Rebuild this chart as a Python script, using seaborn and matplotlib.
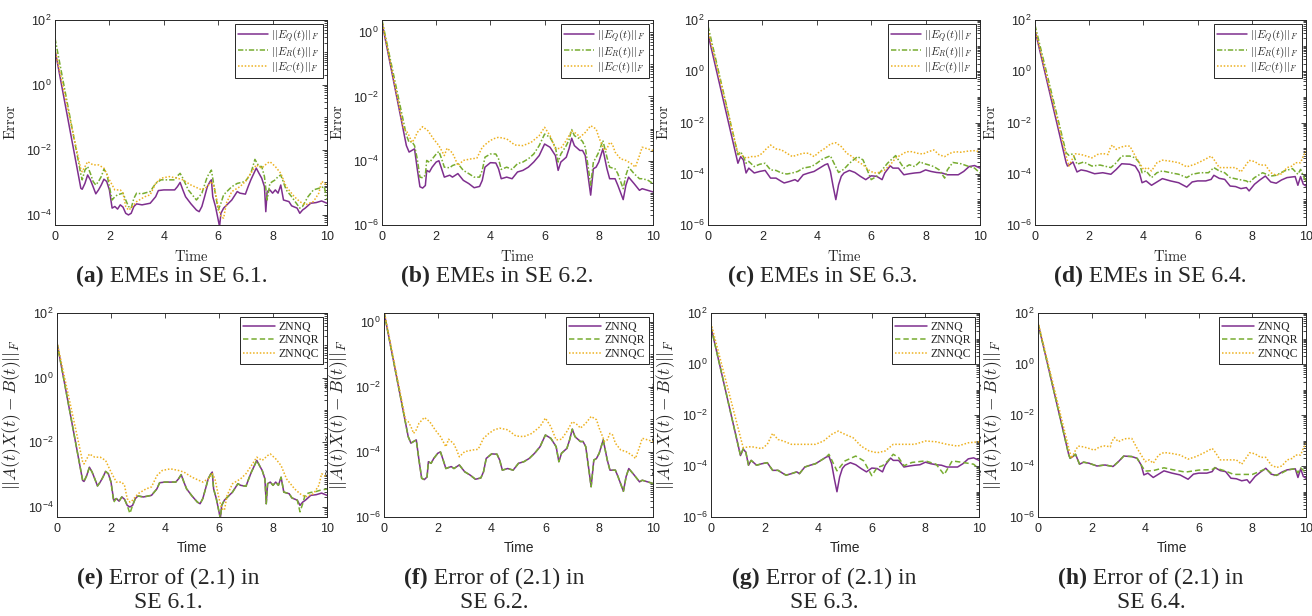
import numpy as np
import matplotlib
matplotlib.use("Agg")
import matplotlib.pyplot as plt
import seaborn as sns
from matplotlib.ticker import FixedLocator, LogLocator, NullFormatter, LogFormatterSciNotation
from matplotlib.font_manager import FontProperties

# ---------------------------------------------------------------------
# data: time knots and log10(error)
# ---------------------------------------------------------------------
# SE 6.1
aQ_t = [0, 0.95, 1.0, 1.1, 1.2, 1.3, 1.4, 1.5, 1.6, 1.7, 1.8, 1.9, 2.0, 2.1, 2.2, 2.3, 2.4, 2.5, 2.6, 2.7,
        2.8, 2.9, 3.0, 3.2, 3.5, 3.7, 3.8, 4.0, 4.4, 4.5, 4.6, 4.7, 4.8, 5.0, 5.2, 5.3, 5.4, 5.5, 5.6, 5.7,
        5.75, 5.8, 5.9, 6.0, 6.05, 6.1, 6.2, 6.5, 6.7, 6.8, 7.0, 7.1, 7.2, 7.4, 7.5, 7.6, 7.7, 7.75, 7.8, 7.9,
        8.0, 8.1, 8.2, 8.3, 8.4, 8.6, 8.7, 8.9, 9.0, 9.1, 9.2, 9.4, 9.6, 9.8, 10.0]
aQ_v = [1.08, -3.18, -3.21, -3.03, -2.77, -2.92, -3.13, -3.35, -3.23, -3.08, -2.90, -2.97, -3.23, -3.79, -3.74, -3.82, -3.69, -3.76, -3.95, -4.0,
        -3.95, -3.74, -3.66, -3.69, -3.64, -3.44, -3.25, -3.23, -3.23, -3.13, -3.0, -3.23, -3.44, -3.66, -3.85, -3.9, -3.74, -3.44, -3.13, -2.97,
        -2.92, -3.44, -3.74, -4.15, -4.36, -3.95, -3.79, -3.54, -3.28, -3.33, -3.36, -3.13, -2.92, -2.56, -2.72, -2.87, -3.13, -3.90, -3.28, -3.23,
        -3.33, -3.23, -3.33, -3.08, -3.54, -3.59, -3.72, -3.79, -3.95, -3.85, -3.79, -3.64, -3.62, -3.57, -3.64]
aR_t = [0, 0.95, 1.0, 1.1, 1.2, 1.3, 1.4, 1.5, 1.6, 1.7, 1.8, 1.9, 2.0, 2.1, 2.2, 2.3, 2.5, 2.6, 2.7, 2.8,
        2.9, 3.0, 3.2, 3.5, 3.7, 3.9, 4.4, 4.5, 4.6, 4.7, 4.9, 5.2, 5.4, 5.6, 5.75, 5.85, 6.0, 6.1, 6.2, 6.5,
        6.7, 7.0, 7.2, 7.35, 7.5, 7.6, 7.7, 7.8, 7.9, 8.0, 8.1, 8.2, 8.3, 8.5, 8.7, 9.0, 9.1, 9.3, 9.5, 9.7,
        9.9, 10.0]
aR_v = [1.44, -2.75, -2.92, -2.62, -2.51, -2.72, -2.97, -3.08, -2.97, -2.82, -2.59, -2.72, -3.13, -3.54, -3.44, -3.38, -3.33, -3.54, -3.74, -3.79,
        -3.49, -3.33, -3.35, -3.28, -3.03, -2.92, -2.92, -2.80, -2.72, -2.87, -3.23, -3.54, -3.33, -2.82, -2.62, -3.13, -3.85, -3.64, -3.38, -3.13,
        -3.03, -2.97, -2.72, -2.29, -2.51, -2.51, -2.82, -3.54, -3.03, -2.97, -2.92, -2.82, -2.77, -3.23, -3.44, -3.79, -3.74, -3.44, -3.23, -3.18,
        -3.13, -3.54]
aC_t = [0, 0.95, 1.0, 1.2, 1.4, 1.6, 1.7, 1.8, 2.0, 2.2, 2.4, 2.5, 2.6, 2.7, 2.8, 3.0, 3.3, 3.5, 3.7, 3.9,
        4.2, 4.5, 4.7, 5.0, 5.4, 5.6, 5.75, 5.85, 6.0, 6.1, 6.2, 6.3, 6.5, 6.8, 7.0, 7.2, 7.4, 7.6, 7.8, 7.9,
        8.1, 8.3, 8.5, 8.8, 9.0, 9.2, 9.5, 9.7, 9.8, 10.0]
aC_v = [1.1, -2.6, -2.67, -2.36, -2.46, -2.46, -2.51, -2.56, -2.92, -3.23, -3.23, -3.33, -3.74, -3.85, -3.79, -3.59, -3.44, -3.38, -3.03, -2.87,
        -2.82, -2.87, -2.92, -3.08, -3.23, -3.13, -2.97, -3.13, -3.74, -4.05, -4.1, -3.64, -3.28, -3.13, -2.97, -2.72, -2.46, -2.56, -2.41, -2.36,
        -2.51, -2.72, -3.13, -3.44, -3.59, -3.69, -3.59, -3.33, -2.97, -3.08]
# ZNNQR in SE 6.1 (same knots as aQ_t)
eR_v = [1.08, -3.18, -3.21, -3.03, -2.77, -2.92, -3.13, -3.35, -3.23, -3.08, -2.90, -2.97, -3.23, -3.85, -3.74, -3.82, -3.69, -3.76, -3.95, -4.2,
        -3.95, -3.74, -3.66, -3.69, -3.64, -3.44, -3.25, -3.23, -3.23, -3.13, -3.0, -3.23, -3.44, -3.66, -3.85, -3.9, -3.74, -3.44, -3.13, -2.97,
        -2.92, -3.44, -3.74, -4.15, -4.36, -3.95, -3.79, -3.54, -3.28, -3.33, -3.36, -3.13, -2.92, -2.56, -2.72, -2.87, -3.13, -3.90, -3.28, -3.23,
        -3.33, -3.23, -3.33, -3.08, -3.54, -3.59, -3.72, -3.79, -4.15, -3.9, -3.6, -3.55, -3.52, -3.47, -3.45]

# SE 6.2
bQ_t = [0, 0.85, 0.9, 1.0, 1.1, 1.2, 1.3, 1.4, 1.5, 1.6, 1.65, 1.75, 1.85, 2.0, 2.1, 2.2, 2.3, 2.5, 2.6, 2.8,
        3.0, 3.2, 3.4, 3.6, 3.7, 3.8, 4.0, 4.2, 4.3, 4.4, 4.6, 4.8, 5.0, 5.2, 5.4, 5.6, 5.8, 6.0, 6.2, 6.4,
        6.5, 6.6, 6.8, 6.9, 7.0, 7.1, 7.3, 7.4, 7.5, 7.6, 7.7, 7.8, 7.9, 8.0, 8.15, 8.3, 8.4, 8.6, 8.7, 8.9,
        9.0, 9.1, 9.3, 9.5, 9.6, 9.8, 10.0]
bQ_v = [0.3, -3.32, -3.53, -3.73, -3.68, -3.63, -4.25, -4.81, -4.85, -4.77, -4.30, -4.35, -4.20, -4.04, -4.0, -4.25, -4.51, -4.45, -4.51, -4.40,
        -4.61, -4.71, -4.84, -4.80, -4.61, -4.20, -4.06, -4.07, -4.25, -4.56, -4.51, -4.56, -4.35, -4.30, -4.20, -4.04, -3.84, -3.48, -3.58, -3.84,
        -4.30, -4.04, -3.89, -3.63, -3.30, -3.53, -3.68, -3.68, -3.84, -4.45, -5.07, -4.25, -4.20, -4.04, -3.63, -4.25, -4.56, -4.56, -4.76, -5.21,
        -4.76, -4.51, -4.71, -4.92, -4.87, -4.92, -4.97]
bR_v = [0.38, -3.01, -3.2, -3.43, -3.40, -3.53, -3.94, -4.51, -4.53, -4.45, -3.99, -4.05, -3.95, -3.79, -3.71, -3.94, -4.20, -4.22, -4.15, -4.09,
        -4.30, -4.40, -4.51, -4.51, -4.30, -3.89, -3.79, -3.79, -3.94, -4.27, -4.20, -4.27, -4.09, -4.04, -3.94, -3.79, -3.53, -3.17, -3.27, -3.58,
        -4.04, -3.79, -3.53, -3.35, -3.03, -3.22, -3.32, -3.40, -3.58, -4.15, -4.76, -4.04, -3.90, -3.73, -3.37, -3.89, -4.20, -4.25, -4.40, -4.87,
        -4.45, -4.20, -4.40, -4.56, -4.56, -4.60, -4.71]
bC_t = [0, 0.8, 0.9, 1.0, 1.1, 1.2, 1.3, 1.5, 1.7, 1.9, 2.1, 2.3, 2.4, 2.5, 2.6, 2.7, 2.8, 3.0, 3.3, 3.5,
        3.7, 3.9, 4.1, 4.3, 4.6, 4.9, 5.2, 5.5, 5.8, 6.0, 6.2, 6.4, 6.6, 6.8, 7.0, 7.2, 7.3, 7.5, 7.7, 7.9,
        8.0, 8.2, 8.3, 8.4, 8.5, 8.6, 8.8, 9.0, 9.2, 9.35, 9.5, 9.6, 9.8, 10.0]
bC_v = [0.35, -3.01, -3.07, -3.22, -3.43, -3.32, -3.12, -2.94, -3.07, -3.32, -3.53, -3.84, -3.61, -3.68, -3.76, -3.94, -4.15, -3.99, -3.94, -3.92,
        -3.58, -3.43, -3.32, -3.27, -3.32, -3.51, -3.53, -3.43, -3.22, -2.96, -3.22, -3.63, -3.61, -3.37, -3.07, -3.17, -3.27, -3.12, -2.91, -3.01,
        -3.27, -3.68, -3.63, -3.43, -3.48, -3.73, -3.94, -3.99, -4.09, -4.20, -3.84, -3.58, -3.63, -3.68]

# SE 6.3
cQ_t = [0, 1.1, 1.2, 1.3, 1.4, 1.5, 1.7, 1.9, 2.1, 2.3, 2.5, 2.7, 2.8, 3.0, 3.2, 3.3, 3.5, 3.7, 3.9, 4.1,
        4.3, 4.4, 4.5, 4.6, 4.7, 4.8, 4.9, 5.0, 5.2, 5.4, 5.6, 5.8, 6.0, 6.2, 6.4, 6.5, 6.7, 6.8, 7.0, 7.2,
        7.4, 7.6, 7.8, 8.0, 8.2, 8.4, 8.6, 8.8, 9.0, 9.2, 9.4, 9.6, 9.8, 10.0]
cQ_v = [1.45, -3.59, -3.33, -3.46, -3.97, -3.78, -3.97, -3.91, -3.87, -4.17, -4.17, -4.30, -4.36, -4.30, -4.23, -4.30, -4.04, -3.97, -3.91, -3.78,
        -3.65, -3.61, -3.91, -4.49, -5.01, -4.43, -4.10, -3.97, -3.87, -3.95, -4.10, -4.23, -4.08, -4.10, -4.23, -3.97, -3.69, -3.78, -3.78, -4.04,
        -4.0, -3.97, -3.95, -3.85, -3.91, -3.95, -3.97, -4.04, -4.04, -4.04, -3.91, -3.72, -3.68, -3.78]
cR_t = [0, 1.1, 1.2, 1.3, 1.4, 1.5, 1.7, 1.9, 2.1, 2.3, 2.5, 2.7, 2.9, 3.1, 3.3, 3.5, 3.8, 4.0, 4.2, 4.5,
        4.6, 4.8, 5.0, 5.2, 5.5, 5.7, 5.9, 6.0, 6.2, 6.4, 6.6, 6.9, 7.0, 7.2, 7.4, 7.6, 7.8, 7.9, 8.1, 8.3,
        8.5, 8.7, 8.8, 9.0, 9.3, 9.6, 9.8, 10.0]
cR_v = [1.77, -3.26, -3.14, -3.33, -3.59, -3.52, -3.72, -3.63, -3.59, -3.85, -3.87, -3.97, -4.01, -3.97, -3.91, -3.78, -3.72, -3.59, -3.43, -3.30,
        -3.52, -3.95, -3.82, -3.59, -3.33, -3.46, -3.97, -4.23, -4.10, -3.85, -3.59, -3.29, -3.46, -3.78, -3.65, -3.72, -3.52, -3.59, -3.65, -3.72,
        -3.85, -4.17, -3.85, -3.56, -3.61, -3.72, -3.78, -3.97]
cC_t = [0, 1.1, 1.2, 1.4, 1.6, 1.8, 2.0, 2.1, 2.3, 2.5, 2.7, 2.9, 3.1, 3.3, 3.5, 3.7, 3.9, 4.1, 4.3, 4.5,
        4.7, 4.9, 5.1, 5.3, 5.5, 5.7, 5.9, 6.1, 6.3, 6.5, 6.7, 6.9, 7.1, 7.3, 7.5, 7.7, 7.9, 8.1, 8.3, 8.5,
        8.7, 8.9, 9.1, 9.3, 9.6, 9.8, 10.0]
cC_v = [1.6, -3.2, -3.26, -3.39, -3.33, -3.33, -3.2, -3.07, -2.88, -3.03, -3.07, -3.2, -3.33, -3.26, -3.2, -3.2, -3.33, -3.14, -3.01, -2.84,
        -2.79, -2.94, -3.2, -3.33, -3.52, -3.65, -3.85, -3.97, -3.95, -3.85, -3.65, -3.39, -3.26, -3.14, -3.14, -3.2, -3.23, -3.14, -3.07, -3.26,
        -3.33, -3.2, -3.14, -3.16, -3.11, -3.10, -3.14]
gR_t = [0, 1.1, 1.2, 1.3, 1.4, 1.5, 1.7, 1.9, 2.1, 2.3, 2.5, 2.7, 2.8, 3.0, 3.2, 3.3, 3.5, 3.7, 3.9, 4.1,
        4.3, 4.4, 4.7, 5.0, 5.4, 5.7, 6.0, 6.2, 6.4, 6.6, 6.8, 7.0, 7.2, 7.5, 8.0, 8.4, 8.7, 9.0, 9.4, 9.8,
        10.0]
gR_v = [1.45, -3.59, -3.33, -3.46, -3.97, -3.78, -3.97, -3.91, -3.87, -4.17, -4.17, -4.30, -4.36, -4.30, -4.23, -4.30, -4.04, -3.97, -3.91, -3.78,
        -3.65, -3.54, -4.19, -3.80, -3.61, -3.80, -4.38, -4.06, -3.99, -3.80, -3.54, -3.67, -3.99, -3.86, -3.80, -3.93, -4.34, -3.80, -3.86, -3.93,
        -4.12]
gC_t = [0, 1.2, 1.5, 1.9, 2.1, 2.3, 2.5, 2.7, 3.0, 3.5, 3.9, 4.2, 4.5, 4.75, 5.0, 5.3, 5.6, 5.9, 6.2, 6.5,
        6.8, 7.2, 7.6, 8.0, 8.4, 8.8, 9.2, 9.6, 10.0]
gC_v = [1.6, -3.28, -3.24, -3.32, -3.15, -2.72, -2.96, -3.02, -3.15, -3.15, -3.15, -3.02, -2.76, -2.63, -2.76, -2.89, -3.22, -3.41, -3.48, -3.41,
        -3.15, -3.15, -3.15, -3.02, -3.05, -3.15, -3.22, -3.09, -3.05]

# SE 6.4
dQ_t = [0, 1.15, 1.2, 1.3, 1.4, 1.55, 1.7, 1.9, 2.2, 2.5, 2.8, 3.0, 3.2, 3.5, 3.7, 3.85, 3.95, 4.1, 4.3, 4.5,
        4.7, 5.0, 5.3, 5.6, 5.8, 6.0, 6.3, 6.5, 6.6, 6.8, 7.0, 7.2, 7.4, 7.6, 7.8, 7.9, 8.1, 8.3, 8.5, 8.7,
        8.9, 9.1, 9.3, 9.6, 9.7, 9.8, 9.9, 10.0]
dQ_v = [1.6, -3.57, -3.70, -3.63, -3.54, -3.93, -3.85, -3.89, -4.0, -3.96, -4.02, -3.83, -3.61, -3.63, -3.70, -3.96, -4.35, -4.28, -4.45, -4.32,
        -4.19, -4.28, -4.35, -4.52, -4.32, -4.28, -4.28, -4.22, -4.06, -4.18, -4.22, -4.48, -4.50, -4.58, -4.54, -4.67, -4.41, -4.24, -4.09, -4.32,
        -4.37, -4.24, -4.15, -4.11, -4.45, -4.11, -4.41, -4.48]
dR_t = [0, 1.15, 1.25, 1.4, 1.55, 1.8, 2.1, 2.4, 2.8, 3.0, 3.2, 3.5, 3.7, 3.85, 3.95, 4.1, 4.3, 4.5, 4.7, 5.0,
        5.3, 5.6, 5.8, 6.1, 6.4, 6.6, 6.8, 7.0, 7.2, 7.5, 7.8, 7.9, 8.1, 8.4, 8.7, 8.9, 9.2, 9.5, 9.7, 9.8,
        9.9, 10.0]
dR_v = [1.8, -3.18, -3.28, -3.22, -3.63, -3.54, -3.70, -3.66, -3.76, -3.57, -3.31, -3.31, -3.38, -3.57, -3.96, -3.89, -4.15, -3.96, -3.89, -3.96,
        -4.02, -4.15, -4.02, -3.96, -3.96, -3.76, -3.89, -3.96, -4.15, -4.22, -4.28, -4.35, -4.15, -3.96, -4.09, -4.06, -3.89, -3.80, -4.02, -3.83,
        -4.09, -4.28]
dC_t = [0, 1.15, 1.25, 1.4, 1.5, 1.7, 1.9, 2.1, 2.3, 2.5, 2.7, 2.75, 2.85, 3.0, 3.1, 3.3, 3.5, 3.7, 3.85, 4.0,
        4.15, 4.3, 4.5, 4.7, 5.0, 5.3, 5.6, 5.9, 6.2, 6.5, 6.6, 6.8, 7.1, 7.4, 7.6, 7.8, 7.9, 8.1, 8.3, 8.5,
        8.7, 8.9, 9.1, 9.3, 9.5, 9.6, 9.8, 9.9, 10.0]
dC_v = [1.65, -3.31, -3.70, -3.38, -3.22, -3.25, -3.31, -3.38, -3.25, -3.21, -3.25, -3.05, -2.88, -3.05, -2.99, -2.92, -2.92, -3.31, -3.57, -3.83,
        -3.76, -3.89, -3.57, -3.47, -3.51, -3.57, -3.73, -3.63, -3.48, -3.31, -3.44, -3.76, -3.76, -3.76, -3.93, -3.63, -3.48, -3.52, -3.66, -3.66,
        -3.96, -4.06, -4.0, -3.76, -3.70, -3.57, -3.57, -3.31, -3.12]
hR_t = [0, 1.15, 1.2, 1.3, 1.4, 1.55, 1.7, 1.9, 2.2, 2.5, 2.8, 3.0, 3.2, 3.5, 3.7, 3.85, 4.0, 4.3, 4.7, 5.0,
        5.5, 6.0, 6.5, 6.6, 7.0, 7.3, 8.0, 8.3, 8.5, 8.8, 9.0, 9.3, 9.6, 9.7, 9.8, 10.0]
hR_v = [1.6, -3.57, -3.70, -3.63, -3.54, -3.93, -3.85, -3.89, -4.0, -3.96, -4.02, -3.83, -3.61, -3.63, -3.70, -3.96, -4.20, -4.18, -4.07, -4.14,
        -4.24, -4.16, -4.14, -4.07, -4.20, -4.33, -4.33, -4.20, -4.11, -4.37, -4.33, -4.16, -4.10, -4.27, -4.07, -4.27]

# text
top_labels = [r'$||E_Q(t)||_F$', r'$||E_R(t)||_F$', r'$||E_C(t)||_F$']
bottom_labels = ['ZNNQ', 'ZNNQR', 'ZNNQC']
top_captions = [('(a)', ' EMEs in SE 6.1.'), ('(b)', ' EMEs in SE 6.2.'),
                ('(c)', ' EMEs in SE 6.3.'), ('(d)', ' EMEs in SE 6.4.')]
bottom_captions = [('(e)', ' Error of (2.1) in', 'SE 6.1.'), ('(f)', ' Error of (2.1) in', 'SE 6.2.'),
                   ('(g)', ' Error of (2.1) in', 'SE 6.3.'), ('(h)', ' Error of (2.1) in', 'SE 6.4.')]

PURPLE, GREEN, YELLOW = '#7E2F8E', '#77AC30', '#EDB120'
DARK = '#262626'
SERIF = ['Liberation Serif', 'DejaVu Serif']

sns.set_theme(style="white")
plt.rcParams['font.family'] = ['Liberation Sans', 'DejaVu Sans']
plt.rcParams['mathtext.fontset'] = 'cm'

W, H = 1312, 616
fig = plt.figure(figsize=(W / 100, H / 100), dpi=100)


def add_ax(x0, y0, x1, y1):
    return fig.add_axes([x0 / W, 1 - y1 / H, (x1 - x0) / W, (y1 - y0) / H])


def style_ax(ax, ylo, yhi, yticks):
    ax.set_yscale('log')
    ax.set_xlim(0, 10)
    ax.set_ylim(ylo, yhi)
    ax.set_xticks([0, 2, 4, 6, 8, 10])
    ax.yaxis.set_major_locator(FixedLocator(yticks))
    ax.yaxis.set_major_formatter(LogFormatterSciNotation())
    ax.yaxis.set_minor_locator(LogLocator(base=10, subs=np.arange(1, 10) * 1.0, numticks=100))
    ax.yaxis.set_minor_formatter(NullFormatter())
    ax.tick_params(which='both', direction='in', top=True, right=True, colors=DARK,
                   labelsize=9, width=0.6)
    ax.tick_params(axis='x', pad=4)
    ax.tick_params(axis='y', pad=2.5)
    ax.tick_params(which='major', length=3.5)
    ax.tick_params(which='minor', length=2)
    for sp in ax.spines.values():
        sp.set_color(DARK)
        sp.set_linewidth(0.7)
    ax.set_facecolor('white')


def draw(ax, series):
    for t, v, color, ls, lab in series:
        sns.lineplot(x=t, y=10.0 ** np.array(v), ax=ax, color=color, linestyle=ls,
                     linewidth=1.1, label=lab, estimator=None, sort=False)


def legend(ax, fontprops, spacing):
    leg = ax.legend(loc='upper right', borderaxespad=0.35, fancybox=False, framealpha=1,
                    edgecolor=DARK, handlelength=2.7, handletextpad=0.3, borderpad=0.3,
                    labelspacing=spacing, prop=fontprops)
    leg.get_frame().set_linewidth(0.7)


ticks6 = [1e-6, 1e-4, 1e-2, 1e0, 1e2]

top_boxes = [(55, 20, 327, 225), (382, 20, 653, 225), (708, 20, 980, 225), (1035, 20, 1306, 225)]
bot_boxes = [(57, 313, 327, 517), (384, 313, 653, 517), (711, 313, 979, 517), (1038, 313, 1306, 517)]

top_series = [
    [(aQ_t, aQ_v), (aR_t, aR_v), (aC_t, aC_v)],
    [(bQ_t, bQ_v), (bQ_t, bR_v), (bC_t, bC_v)],
    [(cQ_t, cQ_v), (cR_t, cR_v), (cC_t, cC_v)],
    [(dQ_t, dQ_v), (dR_t, dR_v), (dC_t, dC_v)],
]
bot_series = [
    [(aQ_t, aQ_v), (aQ_t, eR_v), (aC_t, aC_v)],
    [(bQ_t, bQ_v), (bQ_t, bQ_v), (bC_t, bC_v)],
    [(cQ_t, cQ_v), (gR_t, gR_v), (gC_t, gC_v)],
    [(dQ_t, dQ_v), (hR_t, hR_v), (dC_t, dC_v)],
]
top_limits = [(10 ** -4.31, 1e2, [1e-4, 1e-2, 1e0, 1e2]), (1e-6, 10 ** 0.38, ticks6),
              (1e-6, 1e2, ticks6), (1e-6, 1e2, ticks6)]
bot_limits = [(10 ** -4.31, 1e2, [1e-4, 1e-2, 1e0, 1e2]), (1e-6, 10 ** 0.27, ticks6),
              (1e-6, 1e2, ticks6), (1e-6, 1e2, ticks6)]

# MATLAB-like fine dash-dot / dashed / dotted patterns
top_styles = [(PURPLE, '-'), (GREEN, (0, (3.5, 1.3, 1, 1.3))), (YELLOW, (0, (1, 1.2)))]
bot_styles = [(PURPLE, '-'), (GREEN, (0, (3.5, 2))), (YELLOW, (0, (1, 1.2)))]

math_prop = FontProperties(family=SERIF, size=8, math_fontfamily='cm')
serif_prop = FontProperties(family=SERIF, size=8.5)

for i in range(4):
    # top row: EMEs
    ax = add_ax(*top_boxes[i])
    style_ax(ax, *top_limits[i])
    draw(ax, [(t, v, c, ls, lab) for (t, v), (c, ls), lab in zip(top_series[i], top_styles, top_labels)])
    legend(ax, math_prop, 0.02)
    ax.set_xlabel(r'$\mathrm{Time}$', fontsize=10.5, color=DARK)
    ax.set_ylabel(r'$\mathrm{Error}$', fontsize=10.5, color=DARK)
    ax.xaxis.set_label_coords(0.5, -0.115)
    ax.yaxis.set_label_coords(-0.135, 0.5)

    # bottom row: residual of (2.1)
    ax = add_ax(*bot_boxes[i])
    style_ax(ax, *bot_limits[i])
    draw(ax, [(t, v, c, ls, lab) for (t, v), (c, ls), lab in zip(bot_series[i], bot_styles, bottom_labels)])
    legend(ax, serif_prop, 0.15)
    ax.set_xlabel('Time', fontsize=10, color=DARK)
    ax.set_ylabel(r'$||\tilde{A}(t)\tilde{X}(t)-\tilde{B}(t)||_F$', fontsize=12.5, color=DARK)
    ax.xaxis.set_label_coords(0.5, -0.12)
    ax.yaxis.set_label_coords(-0.125, 0.5)

# captions with bold tags, centred under each panel
renderer = fig.canvas.get_renderer()
CAP_FS = 17


def caption(cx, cy, tag, rest):
    t1 = fig.text(0, 1 - cy / H, tag, fontsize=CAP_FS, fontweight='bold', family=SERIF, va='center', ha='left')
    t2 = fig.text(0, 1 - cy / H, rest, fontsize=CAP_FS, family=SERIF, va='center', ha='left')
    w1 = t1.get_window_extent(renderer).width
    w2 = t2.get_window_extent(renderer).width
    x0 = cx - (w1 + w2) / 2
    t1.set_x(x0 / W)
    t2.set_x((x0 + w1) / W)


top_cx = [172, 497, 823, 1150]
bot_cx = [168, 494, 824, 1151]
for i in range(4):
    caption(top_cx[i], 276, *top_captions[i])
    tag, line1, line2 = bottom_captions[i]
    caption(bot_cx[i], 578, tag, line1)
    fig.text(bot_cx[i] / W, 1 - 603 / H, line2, fontsize=CAP_FS, family=SERIF, va='center', ha='center')

fig.savefig('out.png', dpi=100, facecolor='white')
